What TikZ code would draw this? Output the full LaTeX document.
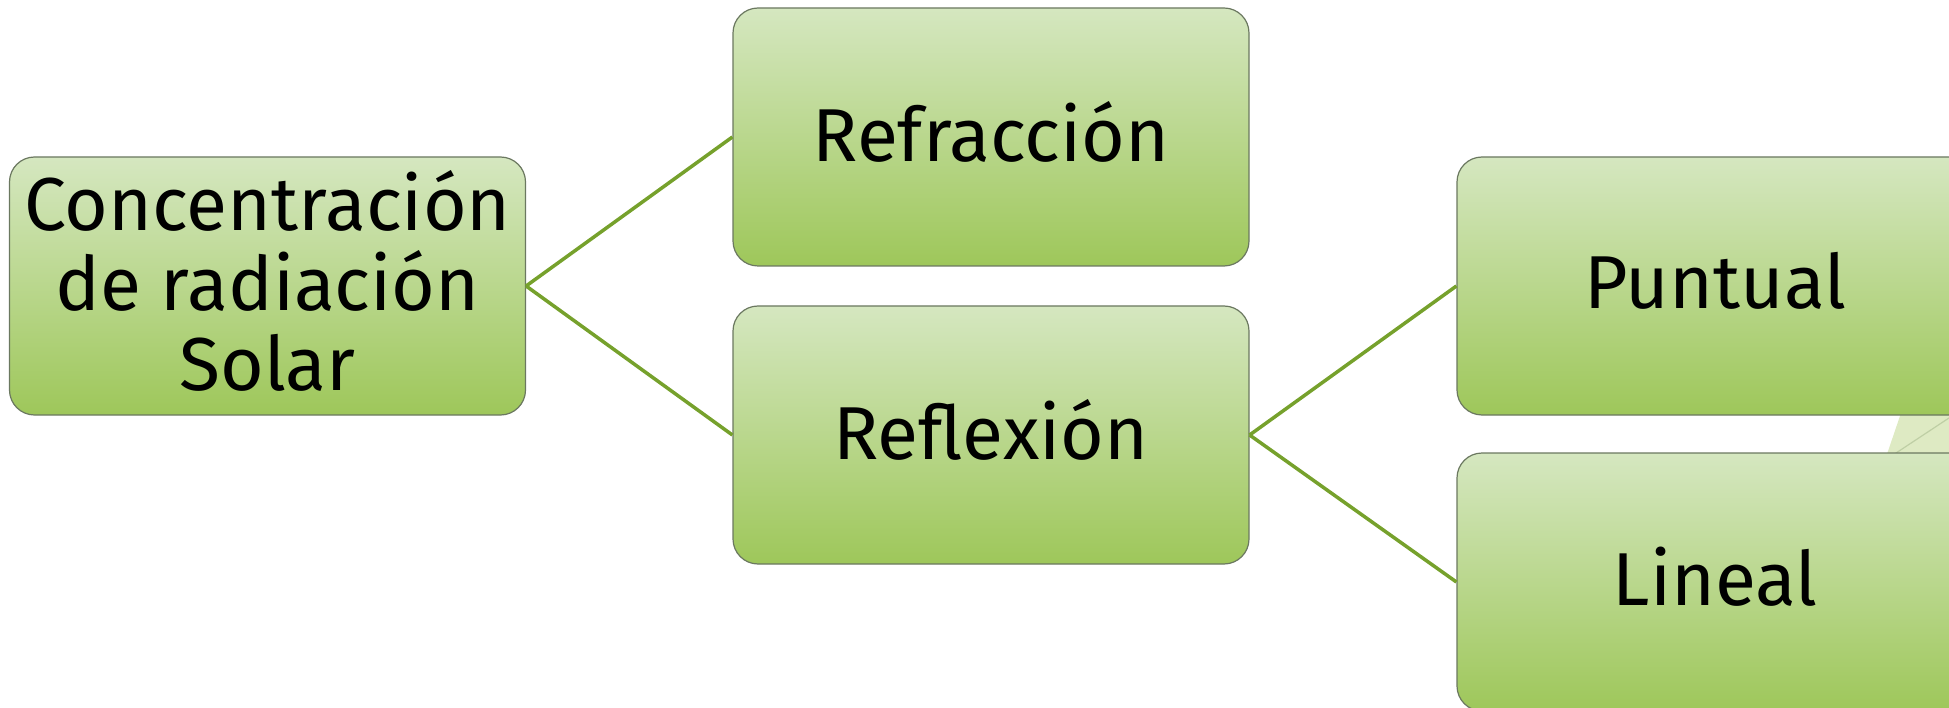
\documentclass[tikz,border=0pt]{standalone}
\usepackage{fontspec}
\setmainfont{Fira Sans}
\definecolor{linegreen}{HTML}{76A12C}
\definecolor{boxtop}{HTML}{D5E7C0}
\definecolor{boxbot}{HTML}{9EC75A}
\definecolor{boxedge}{HTML}{6B7860}
\definecolor{ghost}{HTML}{DEEAC3}
\definecolor{ghostline}{HTML}{BFCFA5}
\newcommand{\lift}{\rule[-12pt]{0pt}{0pt}}
\tikzset{
  box/.style={draw=boxedge, line width=1.2pt, rounded corners=25pt,
    top color=boxtop, bottom color=boxbot,
    minimum width=516pt, minimum height=258pt, inner sep=0pt,
    align=center, font=\fontsize{75}{80}\selectfont},
  link/.style={draw=linegreen, line width=3.5pt}
}
\begin{document}
\begin{tikzpicture}[x=1pt,y=-1pt]
\useasboundingbox (0,0) rectangle (1949,708);
\clip (0,0) rectangle (1949,708);
% faint background shape
\fill[ghost] (1902,410) -- (1960,410) -- (1960,460) -- (1885,460) -- cycle;
\draw[ghostline, line width=1.2pt] (1893,455) -- (1955,414);
\node[box] (conc) at (267.5,286) {Concentración\\de radiación\\Solar\lift};
\node[box] (refr) at (991,137) {Refracción\lift};
\node[box] (refl) at (991,435) {Reflexión\lift};
\node[box] (punt) at (1715,286) {Puntual\lift};
\node[box] (line) at (1715,582) {Lineal\lift};
\draw[link] (conc.east) -- (refr.west);
\draw[link] (conc.east) -- (refl.west);
\draw[link] (refl.east) -- (punt.west);
\draw[link] (refl.east) -- (line.west);
\end{tikzpicture}
\end{document}
